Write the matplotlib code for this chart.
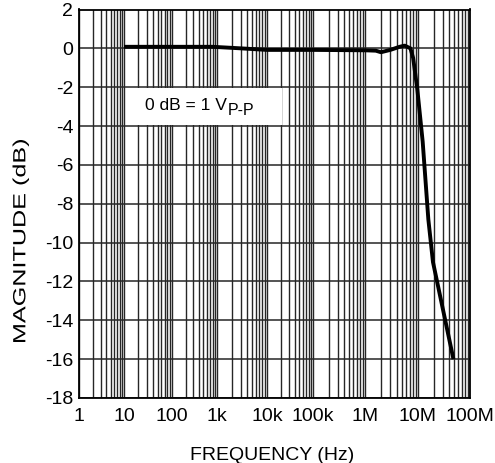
import matplotlib
matplotlib.use('Agg')
import matplotlib.pyplot as plt
from matplotlib.patches import Rectangle, PathPatch
from matplotlib.textpath import TextPath
from matplotlib.font_manager import FontProperties
from matplotlib.transforms import Affine2D, IdentityTransform, blended_transform_factory
from matplotlib.ticker import FixedLocator, FixedFormatter, NullFormatter
import numpy as np

plt.rcParams.update({'font.family': 'Liberation Sans', 'font.size': 14,
                     'axes.unicode_minus': False})

# response
freq_hz = [10, 100, 800, 3e3, 1e4, 1e5, 1e6, 1.6e6, 2.0e6, 3.0e6, 4.5e6, 5.6e6,
           7.2e6, 8.1e6, 9.7e6, 12.3e6, 15.8e6, 19.4e6, 48e6]
mag_db = [0.08, 0.08, 0.08, 0.0, -0.08, -0.08, -0.1, -0.12, -0.2, -0.08, 0.08, 0.14,
          0.0, -0.5, -2.1, -4.8, -8.8, -11.0, -16.0]

x_ticks = [1, 10, 100, 1e3, 1e4, 1e5, 1e6, 1e7, 1e8]
x_labels = ['1', '10', '100', '1k', '10k', '100k', '1M', '10M', '100M']
y_ticks = list(range(2, -19, -2))
y_labels = [str(v) for v in y_ticks]

# the printed log grid is not quite uniform, decade positions in px
decade_px = [79.3, 124.0, 172.0, 217.0, 267.0, 313.0, 365.0, 418.0, 470.0]
decade_exp = np.arange(9)


def fwd(f):
    f = np.asarray(f, dtype=float)
    return np.interp(np.log10(np.clip(f, 1e-12, None)), decade_exp, decade_px)


def inv(p):
    return 10 ** np.interp(np.asarray(p, dtype=float), decade_px, decade_exp)


W, H = 495, 463
fig = plt.figure(figsize=(W / 100, H / 100), dpi=100)
ax = fig.add_axes([79.3 / W, 1 - 398 / H, (470 - 79.3) / W, (398 - 9.5) / H])
ax.set_xscale('function', functions=(fwd, inv))
ax.set_xlim(1, 1e8)
ax.set_ylim(-18, 2)

minor = [m * 10 ** e for e in range(8) for m in range(2, 10)]
ax.xaxis.set_major_locator(FixedLocator(x_ticks))
ax.xaxis.set_major_formatter(FixedFormatter(x_labels))
ax.xaxis.set_minor_locator(FixedLocator(minor))
ax.xaxis.set_minor_formatter(NullFormatter())
ax.set_yticks(y_ticks)
ax.set_yticklabels(y_labels)
ax.tick_params(axis='both', which='both', length=0)
ax.tick_params(axis='x', pad=7.5)
ax.tick_params(axis='y', pad=4.3)
ax.grid(True, which='both', axis='x', color='#262626', lw=1.0)
ax.grid(True, which='major', axis='y', color='#262626', lw=1.1)
ax.set_axisbelow(True)
for s in ax.spines.values():
    s.set_linewidth(1.3)
    s.set_color('black')

ax.plot(freq_hz, mag_db, color='black', lw=2.8, solid_joinstyle='round',
        solid_capstyle='butt', zorder=5)

# note box
bt = blended_transform_factory(ax.transAxes, ax.transData)
ax.add_patch(Rectangle((0.122, -3.94), 0.397, 1.88, transform=bt,
                       facecolor='white', edgecolor='none', zorder=3))
ax.text(0.168, -3.17, '0 dB = 1 V', transform=bt, ha='left', va='baseline',
        fontsize=12.6, zorder=4)
ax.text(0.380, -3.43, 'P-P', transform=bt, ha='left', va='baseline',
        fontsize=11.5, zorder=4)

fig.text(272 / W, 3.5 / H, 'FREQUENCY (Hz)', ha='center', va='baseline')

# y label is drawn stretched along its length, as in the original
tp = TextPath((0, 0), 'MAGNITUDE (dB)', size=1, prop=FontProperties(family='Liberation Sans'))
ext = tp.get_extents()
tr = (Affine2D().translate(-(ext.x0 + ext.x1) / 2, -0.358)
      .scale(202 / ext.width, 17.7).rotate_deg(90).translate(19, H - 241))
fig.add_artist(PathPatch(tr.transform_path(tp), transform=IdentityTransform(),
                         facecolor='black', edgecolor='none'))

fig.savefig('out.png', dpi=100)
